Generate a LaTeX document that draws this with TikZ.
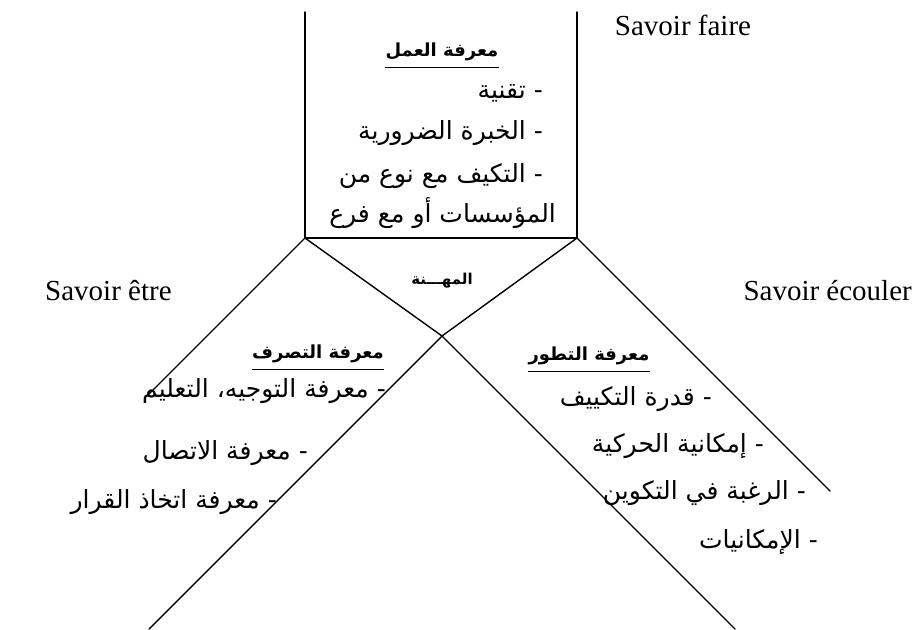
\documentclass[tikz,border=0pt]{standalone}
\usepackage{fontspec}
\setmainfont{Liberation Serif}
\newfontfamily\arabicfont[Script=Arabic]{DejaVu Sans}
\TeXXeTstate=1
\newcommand{\ar}[1]{\arabicfont\beginR #1\endR}
\begin{document}
\begin{tikzpicture}[x=1pt,y=-1pt,
  rule/.style={line width=1.4pt, line cap=round},
  latin/.style={font=\fontsize{29}{30}\selectfont, inner sep=0},
  item/.style={font=\arabicfont\fontsize{25}{28}\selectfont, inner sep=0},
  head/.style={font=\arabicfont\bfseries\fontsize{18}{20}\selectfont, inner sep=0}]
\useasboundingbox (0,0) rectangle (912,629);

% frame points
\coordinate (tl) at (305,12);
\coordinate (tr) at (577,12);
\coordinate (bl) at (305,238);
\coordinate (br) at (577,238);
\coordinate (x)  at (442,336);
\coordinate (ll) at (149,629);
\coordinate (lr) at (735,629);
\coordinate (ol) at (147,396);
\coordinate (or) at (830,491);

% top box and the crossing lines
\draw[rule] (tl) -- (bl) -- (br) -- (tr);
\draw[rule] (bl) -- (x) -- (lr);
\draw[rule] (br) -- (x) -- (ll);
\draw[rule] (bl) -- (ol);
\draw[rule] (br) -- (or);

% outer labels
\node[latin, anchor=base] (sf) at (683,35) {Savoir faire};
\node[latin, anchor=base west] (se) at (45,300) {Savoir être};
\node[latin, anchor=base east] (sc) at (912,300) {Savoir écouler};

% top box
\node[head] (h1) at (442,52) {\ar{معرفة العمل}};
\draw[line width=1.3pt] ([yshift=-6pt]h1.south west) -- ([yshift=-6pt]h1.south east);
\node[item, anchor=east] (t1) at (543,93) {\ar{- تقنية}};
\node[item, anchor=east] (t2) at (543,133) {\ar{- الخبرة الضرورية}};
\node[item, anchor=east] (t3) at (543,176) {\ar{- التكيف مع نوع من}};
\node[item, anchor=east] (t4) at (556,213) {\ar{المؤسسات أو مع فرع}};

% centre
\node[head, font=\arabicfont\bfseries\fontsize{15}{18}\selectfont] (mh) at (442,281) {\ar{المهـــنة}};

% left sector
\node[head] (h2) at (318,354) {\ar{معرفة التصرف}};
\draw[line width=1.3pt] ([yshift=-6pt]h2.south west) -- ([yshift=-6pt]h2.south east);
\node[item, anchor=east] (l1) at (386,391) {\ar{- معرفة التوجيه، التعليم}};
\node[item, anchor=east] (l2) at (308,453) {\ar{- معرفة الاتصال}};
\node[item, anchor=east] (l3) at (277,502) {\ar{- معرفة اتخاذ القرار}};

% right sector
\node[head] (h3) at (589,356) {\ar{معرفة التطور}};
\draw[line width=1.3pt] ([yshift=-6pt]h3.south west) -- ([yshift=-6pt]h3.south east);
\node[item, anchor=east] (r1) at (712,399) {\ar{- قدرة التكييف}};
\node[item, anchor=east] (r2) at (764,446) {\ar{- إمكانية الحركية}};
\node[item, anchor=east] (r3) at (806,493) {\ar{- الرغبة في التكوين}};
\node[item, anchor=east] (r4) at (818,542) {\ar{- الإمكانيات}};
\end{tikzpicture}
\end{document}
